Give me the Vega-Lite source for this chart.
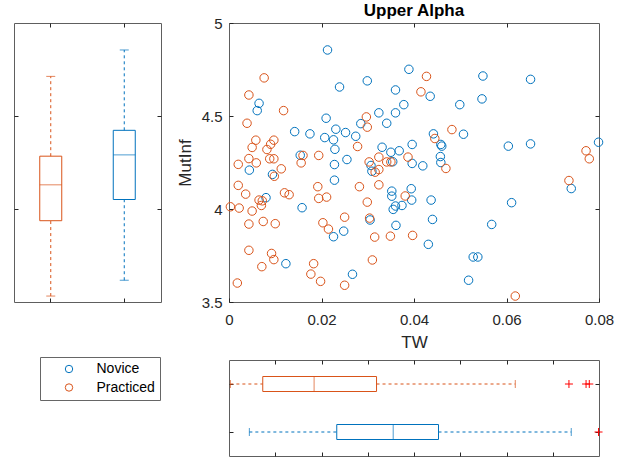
{
  "$schema": "https://vega.github.io/schema/vega-lite/v6.json",
  "padding": {"left": 13, "top": 1, "right": 0, "bottom": 0},
  "bounds": "flush",
  "spacing": 68,
  "config": {
    "font": "Liberation Sans",
    "view": {"stroke": "#5e5e5e", "strokeWidth": 1},
    "axis": {"domain": false, "grid": false, "tickColor": "#262626", "tickSize": 4, "offset": -4, "labelColor": "#262626", "labelFont": "Liberation Sans", "labelFontSize": 15, "labelFlush": false, "titleFont": "Liberation Sans", "titleFontSize": 17, "titleFontWeight": "normal", "titleColor": "#262626"}
  },
  "resolve": {"scale": {"stroke": "independent", "color": "independent"}, "legend": {"stroke": "independent", "color": "independent"}},
  "datasets": {
    "pts": [
      {"g": "Novice", "tw": 0.0213, "mi": 4.855},
      {"g": "Novice", "tw": 0.0389, "mi": 4.751},
      {"g": "Novice", "tw": 0.0239, "mi": 4.656},
      {"g": "Novice", "tw": 0.0299, "mi": 4.689},
      {"g": "Novice", "tw": 0.0360, "mi": 4.640},
      {"g": "Novice", "tw": 0.0065, "mi": 4.568},
      {"g": "Novice", "tw": 0.0061, "mi": 4.529},
      {"g": "Novice", "tw": 0.0378, "mi": 4.561},
      {"g": "Novice", "tw": 0.0324, "mi": 4.517},
      {"g": "Novice", "tw": 0.0360, "mi": 4.517},
      {"g": "Novice", "tw": 0.0210, "mi": 4.488},
      {"g": "Novice", "tw": 0.0341, "mi": 4.461},
      {"g": "Novice", "tw": 0.0285, "mi": 4.459},
      {"g": "Novice", "tw": 0.0142, "mi": 4.416},
      {"g": "Novice", "tw": 0.0175, "mi": 4.404},
      {"g": "Novice", "tw": 0.0231, "mi": 4.429},
      {"g": "Novice", "tw": 0.0252, "mi": 4.411},
      {"g": "Novice", "tw": 0.0207, "mi": 4.384},
      {"g": "Novice", "tw": 0.0226, "mi": 4.372},
      {"g": "Novice", "tw": 0.0274, "mi": 4.391},
      {"g": "Novice", "tw": 0.0229, "mi": 4.321},
      {"g": "Novice", "tw": 0.0331, "mi": 4.332},
      {"g": "Novice", "tw": 0.0368, "mi": 4.313},
      {"g": "Novice", "tw": 0.0350, "mi": 4.305},
      {"g": "Novice", "tw": 0.0255, "mi": 4.266},
      {"g": "Novice", "tw": 0.0154, "mi": 4.289},
      {"g": "Novice", "tw": 0.0396, "mi": 4.347},
      {"g": "Novice", "tw": 0.0435, "mi": 4.606},
      {"g": "Novice", "tw": 0.0549, "mi": 4.715},
      {"g": "Novice", "tw": 0.0547, "mi": 4.592},
      {"g": "Novice", "tw": 0.0499, "mi": 4.561},
      {"g": "Novice", "tw": 0.0652, "mi": 4.697},
      {"g": "Novice", "tw": 0.0507, "mi": 4.402},
      {"g": "Novice", "tw": 0.0442, "mi": 4.404},
      {"g": "Novice", "tw": 0.0458, "mi": 4.347},
      {"g": "Novice", "tw": 0.0460, "mi": 4.338},
      {"g": "Novice", "tw": 0.0457, "mi": 4.282},
      {"g": "Novice", "tw": 0.0458, "mi": 4.250},
      {"g": "Novice", "tw": 0.0604, "mi": 4.338},
      {"g": "Novice", "tw": 0.0652, "mi": 4.350},
      {"g": "Novice", "tw": 0.0799, "mi": 4.359},
      {"g": "Novice", "tw": 0.0419, "mi": 4.232},
      {"g": "Novice", "tw": 0.0396, "mi": 4.245},
      {"g": "Novice", "tw": 0.0307, "mi": 4.234},
      {"g": "Novice", "tw": 0.0309, "mi": 4.203},
      {"g": "Novice", "tw": 0.0354, "mi": 4.254},
      {"g": "Novice", "tw": 0.0228, "mi": 4.239},
      {"g": "Novice", "tw": 0.0044, "mi": 4.209},
      {"g": "Novice", "tw": 0.0094, "mi": 4.186},
      {"g": "Novice", "tw": 0.0228, "mi": 4.155},
      {"g": "Novice", "tw": 0.0080, "mi": 4.061},
      {"g": "Novice", "tw": 0.0158, "mi": 4.007},
      {"g": "Novice", "tw": 0.0352, "mi": 4.096},
      {"g": "Novice", "tw": 0.0352, "mi": 4.069},
      {"g": "Novice", "tw": 0.0394, "mi": 4.109},
      {"g": "Novice", "tw": 0.0395, "mi": 4.048},
      {"g": "Novice", "tw": 0.0355, "mi": 3.998},
      {"g": "Novice", "tw": 0.0360, "mi": 4.016},
      {"g": "Novice", "tw": 0.0374, "mi": 4.019},
      {"g": "Novice", "tw": 0.0437, "mi": 4.048},
      {"g": "Novice", "tw": 0.0440, "mi": 3.944},
      {"g": "Novice", "tw": 0.0361, "mi": 3.912},
      {"g": "Novice", "tw": 0.0305, "mi": 3.941},
      {"g": "Novice", "tw": 0.0226, "mi": 3.851},
      {"g": "Novice", "tw": 0.0248, "mi": 3.881},
      {"g": "Novice", "tw": 0.0431, "mi": 3.810},
      {"g": "Novice", "tw": 0.0123, "mi": 3.706},
      {"g": "Novice", "tw": 0.0267, "mi": 3.649},
      {"g": "Novice", "tw": 0.0528, "mi": 3.742},
      {"g": "Novice", "tw": 0.0538, "mi": 3.742},
      {"g": "Novice", "tw": 0.0518, "mi": 3.617},
      {"g": "Novice", "tw": 0.0568, "mi": 3.917},
      {"g": "Novice", "tw": 0.0611, "mi": 4.034},
      {"g": "Novice", "tw": 0.0740, "mi": 4.110},
      {"g": "Practiced", "tw": 0.0076, "mi": 4.705},
      {"g": "Practiced", "tw": 0.0043, "mi": 4.613},
      {"g": "Practiced", "tw": 0.0118, "mi": 4.529},
      {"g": "Practiced", "tw": 0.0039, "mi": 4.461},
      {"g": "Practiced", "tw": 0.0297, "mi": 4.495},
      {"g": "Practiced", "tw": 0.0299, "mi": 4.440},
      {"g": "Practiced", "tw": 0.0058, "mi": 4.370},
      {"g": "Practiced", "tw": 0.0097, "mi": 4.370},
      {"g": "Practiced", "tw": 0.0050, "mi": 4.331},
      {"g": "Practiced", "tw": 0.0090, "mi": 4.348},
      {"g": "Practiced", "tw": 0.0082, "mi": 4.320},
      {"g": "Practiced", "tw": 0.0278, "mi": 4.336},
      {"g": "Practiced", "tw": 0.0194, "mi": 4.288},
      {"g": "Practiced", "tw": 0.0160, "mi": 4.288},
      {"g": "Practiced", "tw": 0.0043, "mi": 4.271},
      {"g": "Practiced", "tw": 0.0088, "mi": 4.270},
      {"g": "Practiced", "tw": 0.0097, "mi": 4.270},
      {"g": "Practiced", "tw": 0.0020, "mi": 4.240},
      {"g": "Practiced", "tw": 0.0059, "mi": 4.248},
      {"g": "Practiced", "tw": 0.0324, "mi": 4.279},
      {"g": "Practiced", "tw": 0.0303, "mi": 4.253},
      {"g": "Practiced", "tw": 0.0341, "mi": 4.253},
      {"g": "Practiced", "tw": 0.0350, "mi": 4.253},
      {"g": "Practiced", "tw": 0.0387, "mi": 4.279},
      {"g": "Practiced", "tw": 0.0427, "mi": 4.713},
      {"g": "Practiced", "tw": 0.0415, "mi": 4.630},
      {"g": "Practiced", "tw": 0.0482, "mi": 4.427},
      {"g": "Practiced", "tw": 0.0445, "mi": 4.379},
      {"g": "Practiced", "tw": 0.0772, "mi": 4.313},
      {"g": "Practiced", "tw": 0.0779, "mi": 4.270},
      {"g": "Practiced", "tw": 0.0735, "mi": 4.153},
      {"g": "Practiced", "tw": 0.0619, "mi": 3.532},
      {"g": "Practiced", "tw": 0.0156, "mi": 4.248},
      {"g": "Practiced", "tw": 0.0113, "mi": 4.216},
      {"g": "Practiced", "tw": 0.0098, "mi": 4.176},
      {"g": "Practiced", "tw": 0.0020, "mi": 4.127},
      {"g": "Practiced", "tw": 0.0036, "mi": 4.080},
      {"g": "Practiced", "tw": 0.0120, "mi": 4.087},
      {"g": "Practiced", "tw": 0.0130, "mi": 4.077},
      {"g": "Practiced", "tw": 0.0065, "mi": 4.048},
      {"g": "Practiced", "tw": 0.0072, "mi": 4.044},
      {"g": "Practiced", "tw": 0.0070, "mi": 4.019},
      {"g": "Practiced", "tw": 0.0003, "mi": 4.012},
      {"g": "Practiced", "tw": 0.0022, "mi": 4.005},
      {"g": "Practiced", "tw": 0.0050, "mi": 3.989},
      {"g": "Practiced", "tw": 0.0043, "mi": 3.919},
      {"g": "Practiced", "tw": 0.0074, "mi": 3.933},
      {"g": "Practiced", "tw": 0.0100, "mi": 3.921},
      {"g": "Practiced", "tw": 0.0192, "mi": 4.120},
      {"g": "Practiced", "tw": 0.0194, "mi": 4.057},
      {"g": "Practiced", "tw": 0.0211, "mi": 4.064},
      {"g": "Practiced", "tw": 0.0203, "mi": 3.926},
      {"g": "Practiced", "tw": 0.0215, "mi": 3.892},
      {"g": "Practiced", "tw": 0.0250, "mi": 3.956},
      {"g": "Practiced", "tw": 0.0282, "mi": 4.120},
      {"g": "Practiced", "tw": 0.0299, "mi": 4.037},
      {"g": "Practiced", "tw": 0.0324, "mi": 4.130},
      {"g": "Practiced", "tw": 0.0304, "mi": 3.951},
      {"g": "Practiced", "tw": 0.0315, "mi": 3.849},
      {"g": "Practiced", "tw": 0.0349, "mi": 3.854},
      {"g": "Practiced", "tw": 0.0381, "mi": 4.070},
      {"g": "Practiced", "tw": 0.0397, "mi": 3.858},
      {"g": "Practiced", "tw": 0.0043, "mi": 3.778},
      {"g": "Practiced", "tw": 0.0092, "mi": 3.761},
      {"g": "Practiced", "tw": 0.0097, "mi": 3.728},
      {"g": "Practiced", "tw": 0.0071, "mi": 3.690},
      {"g": "Practiced", "tw": 0.0183, "mi": 3.706},
      {"g": "Practiced", "tw": 0.0177, "mi": 3.650},
      {"g": "Practiced", "tw": 0.0198, "mi": 3.611},
      {"g": "Practiced", "tw": 0.0250, "mi": 3.590},
      {"g": "Practiced", "tw": 0.0310, "mi": 3.726},
      {"g": "Practiced", "tw": 0.0018, "mi": 3.602},
      {"g": "Practiced", "tw": 0.0316, "mi": 4.198},
      {"g": "Practiced", "tw": 0.0324, "mi": 4.212},
      {"g": "Practiced", "tw": 0.0469, "mi": 4.218}
    ],
    "box": [
      {"g": "Practiced", "mlo": 3.532, "mq1": 3.937, "mmed": 4.130, "mq3": 4.284, "mhi": 4.713, "tlo": 0.0003, "tq1": 0.0073, "tmed": 0.0184, "tq3": 0.0319, "thi": 0.0619},
      {"g": "Novice", "mlo": 3.617, "mq1": 4.051, "mmed": 4.291, "mq3": 4.423, "mhi": 4.855, "tlo": 0.0044, "tq1": 0.0233, "tmed": 0.0355, "tq3": 0.0453, "thi": 0.0740}
    ],
    "out": [
      {"g": "Practiced", "tw": 0.0735},
      {"g": "Practiced", "tw": 0.0772},
      {"g": "Practiced", "tw": 0.0779},
      {"g": "Novice", "tw": 0.0799}
    ]
  },
  "hconcat": [
    {
      "width": 147,
      "height": 279,
      "data": {"name": "box"},
      "resolve": {"axis": {"x": "independent", "y": "independent"}},
      "layer": [
        {
          "mark": {"type": "rule", "strokeDash": [3, 3], "strokeWidth": 1},
          "encoding": {
            "x": {"field": "g", "type": "nominal", "sort": ["Practiced", "Novice"], "scale": {"paddingInner": 0, "paddingOuter": 0}, "axis": {"orient": "bottom", "labels": false, "title": null}},
            "y": {"field": "mlo", "type": "quantitative", "scale": {"domain": [3.5, 5], "nice": false, "zero": false}, "axis": {"orient": "left", "labels": false, "title": null, "values": [4, 4.5]}},
            "y2": {"field": "mq1"},
            "color": {"field": "g", "type": "nominal", "scale": {"domain": ["Novice", "Practiced"], "range": ["#0072BD", "#D95319"]}, "legend": null}
          }
        },
        {
          "mark": {"type": "rule", "strokeDash": [3, 3], "strokeWidth": 1},
          "encoding": {
            "x": {"field": "g", "type": "nominal", "sort": ["Practiced", "Novice"], "scale": {"paddingInner": 0, "paddingOuter": 0}, "axis": {"orient": "top", "labels": false, "title": null}},
            "y": {"field": "mq3", "type": "quantitative", "scale": {"domain": [3.5, 5], "nice": false, "zero": false}, "axis": {"orient": "right", "labels": false, "title": null, "values": [4, 4.5]}},
            "y2": {"field": "mhi"},
            "color": {"field": "g", "type": "nominal", "scale": {"domain": ["Novice", "Practiced"], "range": ["#0072BD", "#D95319"]}, "legend": null}
          }
        },
        {
          "mark": {"type": "bar", "filled": false, "width": 22, "strokeWidth": 1},
          "encoding": {
            "x": {"field": "g", "type": "nominal", "sort": ["Practiced", "Novice"], "axis": null},
            "y": {"field": "mq1", "type": "quantitative", "axis": null},
            "y2": {"field": "mq3"},
            "stroke": {"field": "g", "type": "nominal", "scale": {"domain": ["Novice", "Practiced"], "range": ["#0072BD", "#D95319"]}, "legend": null}
          }
        },
        {
          "mark": {"type": "tick", "size": 22, "thickness": 1},
          "encoding": {
            "x": {"field": "g", "type": "nominal", "sort": ["Practiced", "Novice"], "axis": null},
            "y": {"field": "mmed", "type": "quantitative", "axis": null},
            "color": {"field": "g", "type": "nominal", "scale": {"domain": ["Novice", "Practiced"], "range": ["#0072BD", "#D95319"]}, "legend": null}
          }
        },
        {
          "mark": {"type": "tick", "size": 9, "thickness": 1},
          "encoding": {
            "x": {"field": "g", "type": "nominal", "sort": ["Practiced", "Novice"], "axis": null},
            "y": {"field": "mlo", "type": "quantitative", "axis": null},
            "color": {"field": "g", "type": "nominal", "scale": {"domain": ["Novice", "Practiced"], "range": ["#0072BD", "#D95319"]}, "legend": null}
          }
        },
        {
          "mark": {"type": "tick", "size": 9, "thickness": 1},
          "encoding": {
            "x": {"field": "g", "type": "nominal", "sort": ["Practiced", "Novice"], "axis": null},
            "y": {"field": "mhi", "type": "quantitative", "axis": null},
            "color": {"field": "g", "type": "nominal", "scale": {"domain": ["Novice", "Practiced"], "range": ["#0072BD", "#D95319"]}, "legend": null}
          }
        }
      ]
    },
    {
      "vconcat": [
        {
          "width": 370,
          "height": 279,
          "title": {"text": "Upper Alpha", "fontSize": 17, "fontWeight": "bold", "font": "Liberation Sans", "color": "#000000", "anchor": "middle", "offset": -4},
          "data": {"name": "pts"},
          "resolve": {"axis": {"x": "independent", "y": "independent"}},
          "layer": [
            {
              "mark": {"type": "point", "filled": false, "size": 72, "strokeWidth": 1, "opacity": 1},
              "encoding": {
                "x": {"field": "tw", "type": "quantitative", "scale": {"domain": [0, 0.08], "nice": false, "zero": false}, "axis": {"orient": "bottom", "values": [0, 0.02, 0.04, 0.06, 0.08], "format": "~g", "title": "TW", "labelPadding": 10, "titlePadding": 7}},
                "y": {"field": "mi", "type": "quantitative", "scale": {"domain": [3.5, 5], "nice": false, "zero": false}, "axis": {"orient": "left", "values": [3.5, 4, 4.5, 5], "format": "~g", "title": "MutInf", "labelPadding": 7, "titlePadding": 7}},
                "stroke": {"field": "g", "type": "nominal", "scale": {"domain": ["Novice", "Practiced"], "range": ["#0072BD", "#D95319"]},
                  "legend": {"title": null, "orient": "none", "legendX": -189, "legendY": 334, "symbolType": "circle", "symbolSize": 55, "symbolStrokeWidth": 1, "symbolFillColor": "transparent", "symbolOffset": 17, "labelOffset": 20.5, "labelFontSize": 14, "labelFont": "Liberation Sans", "labelColor": "#000000", "padding": 5, "rowPadding": 4.5, "strokeColor": "#666666", "fillColor": "#ffffff"}}
              }
            },
            {
              "mark": {"type": "point", "opacity": 0},
              "encoding": {
                "x": {"field": "tw", "type": "quantitative", "scale": {"domain": [0, 0.08], "nice": false, "zero": false}, "axis": {"orient": "top", "values": [0.02, 0.04, 0.06], "labels": false, "title": null}},
                "y": {"field": "mi", "type": "quantitative", "scale": {"domain": [3.5, 5], "nice": false, "zero": false}, "axis": {"orient": "right", "values": [4, 4.5], "labels": false, "title": null}}
              }
            }
          ]
        },
        {
          "width": 370,
          "height": 96,
          "resolve": {"axis": {"x": "independent", "y": "independent"}},
          "layer": [
            {
              "data": {"name": "box"},
              "mark": {"type": "rule", "strokeDash": [3, 3], "strokeWidth": 1},
              "encoding": {
                "y": {"field": "g", "type": "nominal", "sort": ["Practiced", "Novice"], "scale": {"paddingInner": 0, "paddingOuter": 0}, "axis": {"orient": "left", "labels": false, "title": null}},
                "x": {"field": "tlo", "type": "quantitative", "scale": {"domain": [0, 0.08], "nice": false, "zero": false}, "axis": {"orient": "top", "labels": false, "title": null, "values": [0.01, 0.02, 0.03, 0.04, 0.05, 0.06, 0.07]}},
                "x2": {"field": "tq1"},
                "color": {"field": "g", "type": "nominal", "scale": {"domain": ["Novice", "Practiced"], "range": ["#0072BD", "#D95319"]}, "legend": null}
              }
            },
            {
              "data": {"name": "box"},
              "mark": {"type": "rule", "strokeDash": [3, 3], "strokeWidth": 1},
              "encoding": {
                "y": {"field": "g", "type": "nominal", "sort": ["Practiced", "Novice"], "scale": {"paddingInner": 0, "paddingOuter": 0}, "axis": {"orient": "right", "labels": false, "title": null}},
                "x": {"field": "tq3", "type": "quantitative", "scale": {"domain": [0, 0.08], "nice": false, "zero": false}, "axis": {"orient": "bottom", "labels": false, "title": null, "values": [0.01, 0.02, 0.03, 0.04, 0.05, 0.06, 0.07]}},
                "x2": {"field": "thi"},
                "color": {"field": "g", "type": "nominal", "scale": {"domain": ["Novice", "Practiced"], "range": ["#0072BD", "#D95319"]}, "legend": null}
              }
            },
            {
              "data": {"name": "box"},
              "mark": {"type": "bar", "filled": false, "height": 15, "strokeWidth": 1},
              "encoding": {
                "y": {"field": "g", "type": "nominal", "sort": ["Practiced", "Novice"], "axis": null},
                "x": {"field": "tq1", "type": "quantitative", "axis": null},
                "x2": {"field": "tq3"},
                "stroke": {"field": "g", "type": "nominal", "scale": {"domain": ["Novice", "Practiced"], "range": ["#0072BD", "#D95319"]}, "legend": null}
              }
            },
            {
              "data": {"name": "box"},
              "mark": {"type": "tick", "size": 15, "thickness": 1},
              "encoding": {
                "y": {"field": "g", "type": "nominal", "sort": ["Practiced", "Novice"], "axis": null},
                "x": {"field": "tmed", "type": "quantitative", "axis": null},
                "color": {"field": "g", "type": "nominal", "scale": {"domain": ["Novice", "Practiced"], "range": ["#0072BD", "#D95319"]}, "legend": null}
              }
            },
            {
              "data": {"name": "box"},
              "mark": {"type": "tick", "size": 8, "thickness": 1},
              "encoding": {
                "y": {"field": "g", "type": "nominal", "sort": ["Practiced", "Novice"], "axis": null},
                "x": {"field": "tlo", "type": "quantitative", "axis": null},
                "color": {"field": "g", "type": "nominal", "scale": {"domain": ["Novice", "Practiced"], "range": ["#0072BD", "#D95319"]}, "legend": null}
              }
            },
            {
              "data": {"name": "box"},
              "mark": {"type": "tick", "size": 8, "thickness": 1},
              "encoding": {
                "y": {"field": "g", "type": "nominal", "sort": ["Practiced", "Novice"], "axis": null},
                "x": {"field": "thi", "type": "quantitative", "axis": null},
                "color": {"field": "g", "type": "nominal", "scale": {"domain": ["Novice", "Practiced"], "range": ["#0072BD", "#D95319"]}, "legend": null}
              }
            },
            {
              "data": {"name": "out"},
              "mark": {"type": "point", "shape": "M -1 0 L 1 0 M 0 -1 L 0 1", "filled": false, "size": 64, "strokeWidth": 1, "stroke": "#FF0000", "opacity": 1},
              "encoding": {
                "y": {"field": "g", "type": "nominal", "sort": ["Practiced", "Novice"], "axis": null},
                "x": {"field": "tw", "type": "quantitative", "axis": null}
              }
            }
          ]
        }
      ],
      "spacing": 58,
      "bounds": "flush",
      "resolve": {"scale": {"stroke": "independent", "color": "independent"}, "legend": {"stroke": "independent", "color": "independent"}}
    }
  ]
}
